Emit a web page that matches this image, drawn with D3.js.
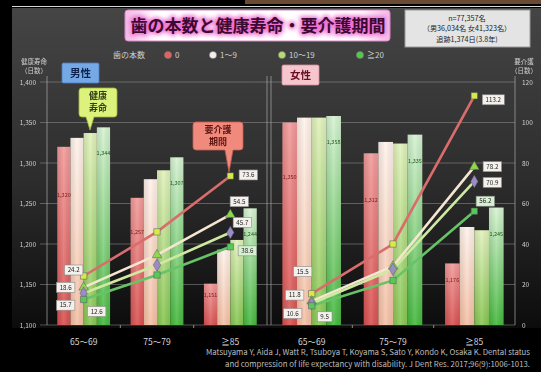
<!DOCTYPE html>
<html>
<head>
<meta charset="utf-8">
<script src="https://cdn.jsdelivr.net/npm/d3@7"></script>
<style>
  html, body { margin: 0; padding: 0; background: #000; }
  svg { display: block; }
  text { font-family: "Noto Sans CJK JP", "Noto Sans", sans-serif; }
</style>
</head>
<body>
<svg id="chart" width="541" height="372"></svg>
<script>
// ---- data ----
const ageGroups = ["65～69", "75～79", "≧85"];
const toothGroups = ["0", "1～9", "10～19", "≧20"];
const daysTicks = [1100, 1150, 1200, 1250, 1300, 1350, 1400];
const careTicks = [0, 20, 40, 60, 80, 100, 120];

// healthy life expectancy (days), rows = age group, columns = tooth group
const maleHealthy = [
  [1320, 1331, 1337, 1344],
  [1257, 1280, 1291, 1307],
  [1151, 1193, 1205, 1244]
];
const femaleHealthy = [
  [1350, 1356, 1356, 1358],
  [1312, 1326, 1324, 1335],
  [1176, 1221, 1217, 1245]
];
// disability period (days), rows = tooth group, columns = age group
const maleCare = [
  [24.2, 46.0, 73.6],
  [18.6, 34.6, 54.5],
  [15.7, 29.6, 45.7],
  [12.6, 24.7, 38.6]
];
const femaleCare = [
  [15.5, 40.0, 113.2],
  [11.8, 29.0, 78.2],
  [10.6, 27.5, 70.9],
  [9.5, 22.0, 56.2]
];

// ---- layout & style ----
const svg = d3.select("#chart");
const yTop = 82, yBase = 325;
const yDays = d3.scaleLinear().domain([1100, 1400]).range([yBase, yTop]);
const yCare = d3.scaleLinear().domain([0, 120]).range([yBase, yTop]);

const panels = [
  { name: "male", range: [47, 267], healthy: maleHealthy, care: maleCare,
    // label offsets (dx, dy) from the marker: first and last age group
    offsets: [
      [[-10, -6], [18, -1]],
      [[-18, 0], [9, -13]],
      [[-18, 12], [12, -10]],
      [[13, 12], [17, 4]]
    ] },
  { name: "female", range: [271, 515], healthy: femaleHealthy, care: femaleCare,
    offsets: [
      [[-9, -22], [19, 4]],
      [[-17, -6], [18, 0]],
      [[-19, 10], [18, 1]],
      [[13, 11], [11, -10]]
    ] }
];

const barColors = [
  ["#f29a9a", "#d9504f"],
  ["#fff3ec", "#f5bfa3"],
  ["#e2f2bc", "#86c650"],
  ["#d6f2d2", "#44b83c"]
];
const lineColors = ["#d96c6c", "#f5e6d2", "#cfe8a2", "#66c466"];
const markerFill = ["#d8ea46", "#8fd84a", "#9c8cc6", "#58c858"];
const markerShape = [d3.symbolSquare, d3.symbolTriangle, d3.symbolDiamond, d3.symbolSquare];

const defs = svg.append("defs");

// background gradient
const bg = defs.append("linearGradient").attr("id", "bgGrad")
  .attr("x1", 0).attr("y1", 0).attr("x2", 0).attr("y2", 1);
bg.append("stop").attr("offset", "0%").attr("stop-color", "#454545");
bg.append("stop").attr("offset", "55%").attr("stop-color", "#2c2c2c");
bg.append("stop").attr("offset", "100%").attr("stop-color", "#0c0c0c");

barColors.forEach((c, i) => {
  const g = defs.append("linearGradient").attr("id", "bar" + i)
    .attr("x1", 0).attr("y1", 0).attr("x2", 0).attr("y2", 1);
  g.append("stop").attr("offset", "0%").attr("stop-color", c[0]);
  g.append("stop").attr("offset", "100%").attr("stop-color", c[1]);
  const h = defs.append("linearGradient").attr("id", "shade" + i)
    .attr("x1", 0).attr("y1", 0).attr("x2", 1).attr("y2", 0);
  h.append("stop").attr("offset", "0%").attr("stop-color", "#000").attr("stop-opacity", 0.10);
  h.append("stop").attr("offset", "50%").attr("stop-color", "#fff").attr("stop-opacity", 0.12);
  h.append("stop").attr("offset", "100%").attr("stop-color", "#000").attr("stop-opacity", 0.06);
});

const titleGrad = defs.append("linearGradient").attr("id", "titleGrad")
  .attr("x1", 0).attr("y1", 0).attr("x2", 1).attr("y2", 0);
titleGrad.append("stop").attr("offset", "0%").attr("stop-color", "#f4b8e6");
titleGrad.append("stop").attr("offset", "12%").attr("stop-color", "#fff");
titleGrad.append("stop").attr("offset", "88%").attr("stop-color", "#fff");
titleGrad.append("stop").attr("offset", "100%").attr("stop-color", "#f4b8e6");

const glow = defs.append("filter").attr("id", "glow").attr("x", "-10%").attr("y", "-30%")
  .attr("width", "120%").attr("height", "160%");
glow.append("feGaussianBlur").attr("stdDeviation", 2.2);

const soft = defs.append("filter").attr("id", "soft");
soft.append("feGaussianBlur").attr("stdDeviation", 0.35);

// ---- frame ----
svg.append("rect").attr("x", 0).attr("y", 0).attr("width", 541).attr("height", 372).attr("fill", "#000");
svg.append("rect").attr("x", 245).attr("y", 0).attr("width", 296).attr("height", 4).attr("fill", "#6a4a32");
svg.append("line").attr("x1", 12).attr("x2", 541).attr("y1", 6.5).attr("y2", 6.5)
  .attr("stroke", "#d8d8d8").attr("stroke-width", 1.2);
svg.append("rect").attr("x", 12).attr("y", 8).attr("width", 529).attr("height", 320).attr("fill", "url(#bgGrad)");

const plot = svg.append("g").attr("filter", "url(#soft)");

// gridlines
plot.append("g").selectAll("line").data(daysTicks).join("line")
  .attr("x1", 40).attr("x2", 515)
  .attr("y1", d => yDays(d)).attr("y2", d => yDays(d))
  .attr("stroke", "#9a9a9a").attr("stroke-opacity", 0.55).attr("stroke-width", 0.9);

// vertical frame lines
[47, 267, 271, 515].forEach(x => {
  plot.append("line").attr("x1", x).attr("x2", x).attr("y1", 76).attr("y2", yBase)
    .attr("stroke", "#a8a8a8").attr("stroke-opacity", 0.7).attr("stroke-width", 1);
});

// left axis (healthy days)
const leftAxis = plot.append("g").attr("transform", "translate(47,0)")
  .call(d3.axisLeft(yDays).tickValues(daysTicks).tickFormat(d3.format(",")).tickSize(0).tickPadding(11));
leftAxis.select(".domain").remove();
leftAxis.selectAll("text").attr("fill", "#cfcfcf").attr("font-size", 6.5);

// right axis (disability days)
const rightAxis = plot.append("g").attr("transform", "translate(515,0)")
  .call(d3.axisRight(yCare).tickValues(careTicks).tickSize(0).tickPadding(7));
rightAxis.select(".domain").remove();
rightAxis.selectAll("text").attr("fill", "#cfcfcf").attr("font-size", 6.5);

// axis titles
const axTitle = (x, lines, anchor) => {
  const t = plot.append("text").attr("x", x).attr("y", 64).attr("text-anchor", anchor)
    .attr("fill", "#cfcfcf").attr("font-size", 6.5);
  lines.forEach((s, i) => t.append("tspan").attr("x", x).attr("dy", i ? 9 : 0).text(s));
};
axTitle(34, ["健康寿命", "（日数）"], "middle");
axTitle(524, ["要介護", "（日数）"], "middle");

// ---- panels ----
panels.forEach(p => {
  const x = d3.scaleBand().domain(ageGroups).range(p.range).paddingInner(0.28).paddingOuter(0.14);
  const xt = d3.scaleBand().domain(toothGroups).range([0, x.bandwidth()]);
  const g = plot.append("g");

  // x axis labels
  const ax = svg.append("g").attr("transform", `translate(0,${yBase})`)
    .call(d3.axisBottom(x).tickSize(0).tickPadding(14));
  ax.select(".domain").remove();
  ax.selectAll("text").attr("fill", "#d8d8d8").attr("font-size", 8.5);

  // small ticks between groups
  const step = x.step();
  g.append("g").selectAll("line").data(ageGroups.slice(1)).join("line")
    .attr("x1", d => x(d) - step * 0.14).attr("x2", d => x(d) - step * 0.14)
    .attr("y1", yBase).attr("y2", yBase + 3)
    .attr("stroke", "#aaa").attr("stroke-width", 0.8);

  // bars
  ageGroups.forEach((age, ai) => {
    const grp = g.append("g").attr("transform", `translate(${x(age)},0)`);
    toothGroups.forEach((tg, ti) => {
      const v = p.healthy[ai][ti];
      const bx = xt(tg), bw = xt.bandwidth(), by = yDays(v), bh = yBase - yDays(v);
      grp.append("rect").attr("x", bx).attr("y", by).attr("width", bw).attr("height", bh)
        .attr("fill", `url(#bar${ti})`);
      grp.append("rect").attr("x", bx).attr("y", by).attr("width", bw).attr("height", bh)
        .attr("fill", `url(#shade${ti})`);
    });
    // value labels for 0 and ≧20 teeth
    const vr = p.healthy[ai][0];
    grp.append("text").attr("x", xt("0") + xt.bandwidth() / 2)
      .attr("y", yDays(vr) + (yBase - yDays(vr)) * 0.27 + 2)
      .attr("text-anchor", "middle").attr("font-size", 5.5).attr("fill", "#7a1a1a")
      .text(d3.format(",")(vr));
    const vg = p.healthy[ai][3];
    grp.append("text").attr("x", xt("≧20") + xt.bandwidth() / 2)
      .attr("y", yDays(vg) + 28)
      .attr("text-anchor", "middle").attr("font-size", 5.5).attr("fill", "#1f5a1f")
      .text(d3.format(",")(vg));
  });

  // disability lines
  const cx = a => x(a) + x.bandwidth() / 2;
  const line = d3.line().x((d, i) => cx(ageGroups[i])).y(d => yCare(d));
  p.care.forEach((vals, ti) => {
    g.append("path").datum(vals).attr("d", line)
      .attr("fill", "none").attr("stroke", lineColors[ti]).attr("stroke-width", 2.6);
  });
  p.care.forEach((vals, ti) => {
    vals.forEach((v, ai) => {
      g.append("path")
        .attr("d", d3.symbol().type(markerShape[ti]).size(ti === 2 ? 46 : 40)())
        .attr("transform", `translate(${cx(ageGroups[ai])},${yCare(v)})`)
        .attr("fill", markerFill[ti]).attr("stroke", "#556").attr("stroke-width", 0.5);
    });
  });

  // value boxes at first and last age group
  p.care.forEach((vals, ti) => {
    [0, 2].forEach((ai, k) => {
      const [dx, dy] = p.offsets[ti][k];
      const mx = cx(ageGroups[ai]) + dx, my = yCare(vals[ai]) + dy;
      const txt = d3.format(".1f")(vals[ai]);
      const w = txt.length * 3.6 + 4;
      g.append("rect").attr("x", mx - w / 2).attr("y", my - 5).attr("width", w).attr("height", 10)
        .attr("fill", ti === 3 && ai === 2 ? "#d6f0d2" : "#f4f1ec")
        .attr("stroke", "#8a8a8a").attr("stroke-width", 0.6);
      g.append("text").attr("x", mx).attr("y", my + 2.2).attr("text-anchor", "middle")
        .attr("font-size", 6.2).attr("fill", "#222").text(txt);
    });
  });
});

// ---- callouts ----
function callout(x, y, w, h, tip, fill, stroke, lines, color) {
  const g = plot.append("g");
  const r = 3;
  const bx = tip[0] - 4;
  const path = `M${x + r},${y} H${x + w - r} Q${x + w},${y} ${x + w},${y + r} V${y + h - r}
    Q${x + w},${y + h} ${x + w - r},${y + h} H${bx + 8} L${tip[0]},${tip[1]} L${bx},${y + h}
    H${x + r} Q${x},${y + h} ${x},${y + h - r} V${y + r} Q${x},${y} ${x + r},${y} Z`;
  g.append("path").attr("d", path).attr("fill", fill).attr("stroke", stroke).attr("stroke-width", 0.8);
  lines.forEach((s, i) => {
    g.append("text").attr("x", x + w / 2).attr("y", y + 11 + i * 12).attr("text-anchor", "middle")
      .attr("font-size", 9).attr("font-weight", "bold").attr("fill", color).text(s);
  });
}
callout(79, 88, 38, 29, [90, 130], "#dcf27c", "#9ab83a", ["健康", "寿命"], "#33401a");
callout(193, 122, 50, 28, [229, 172], "#f08a7c", "#c85a50", ["要介護", "期間"], "#5a1410");

// panel labels
const tag = (x, y, w, h, fill, stroke, s, color) => {
  plot.append("rect").attr("x", x).attr("y", y).attr("width", w).attr("height", h).attr("rx", 1.5)
    .attr("fill", fill).attr("stroke", stroke).attr("stroke-width", 0.8);
  plot.append("text").attr("x", x + w / 2).attr("y", y + h / 2 + 3.6).attr("text-anchor", "middle")
    .attr("font-size", 10.5).attr("font-weight", "bold").attr("fill", color).text(s);
};
tag(62, 63, 37, 20, "#74a9e6", "#4a7cc0", "男性", "#0c2350");
tag(282, 65, 37, 20, "#f6c6ce", "#d88a96", "女性", "#6a1020");

// ---- title ----
svg.append("rect").attr("x", 125).attr("y", 10).attr("width", 265).attr("height", 31).attr("rx", 3)
  .attr("fill", "url(#titleGrad)").attr("stroke", "#d888c8").attr("stroke-width", 1);
const titleText = "歯の本数と健康寿命・要介護期間";
svg.append("text").attr("x", 258).attr("y", 32).attr("text-anchor", "middle")
  .attr("font-size", 17).attr("font-weight", "bold").attr("fill", "none")
  .attr("stroke", "#f070d0").attr("stroke-width", 3.5).attr("filter", "url(#glow)").text(titleText);
svg.append("text").attr("x", 258).attr("y", 32).attr("text-anchor", "middle")
  .attr("font-size", 17).attr("font-weight", "bold").attr("fill", "#3c0a30").text(titleText);

// info box
svg.append("rect").attr("x", 405).attr("y", 10).attr("width", 125).attr("height", 37)
  .attr("fill", "#e4e4e4").attr("stroke", "#9a9a9a").attr("stroke-width", 1);
["n=77,357名", "（男36,034名 女41,323名）", "追跡1,374日(3.8年)"].forEach((s, i) => {
  svg.append("text").attr("x", 467).attr("y", 20.5 + i * 10.5).attr("text-anchor", "middle")
    .attr("font-size", 7.2).attr("fill", "#222").text(s);
});

// legend
svg.append("text").attr("x", 113).attr("y", 58).attr("font-size", 8).attr("fill", "#cfcfcf").text("歯の本数");
const legendX = [168, 213, 282, 360];
const legendFill = ["#e26262", "#f6eeee", "#b4dc72", "#56c64e"];
toothGroups.forEach((tg, i) => {
  svg.append("circle").attr("cx", legendX[i]).attr("cy", 55).attr("r", 3.6)
    .attr("fill", legendFill[i]).attr("stroke", "#777").attr("stroke-width", 0.5);
  svg.append("text").attr("x", legendX[i] + 7).attr("y", 58).attr("font-size", 8)
    .attr("fill", "#cfcfcf").text(tg);
});

// citation
const cite = [
  "Matsuyama Y, Aida J, Watt R, Tsuboya T, Koyama S, Sato Y, Kondo K, Osaka K. Dental status",
  "and compression of life expectancy with disability. J Dent Res. 2017;96(9):1006-1013."
];
cite.forEach((s, i) => {
  svg.append("text").attr("x", 530).attr("y", 355 + i * 11.5).attr("text-anchor", "end")
    .attr("font-size", 7.8).attr("fill", "#bdbdbd").attr("font-family", "Liberation Sans, Arial, sans-serif")
    .text(s);
});
</script>
</body>
</html>
